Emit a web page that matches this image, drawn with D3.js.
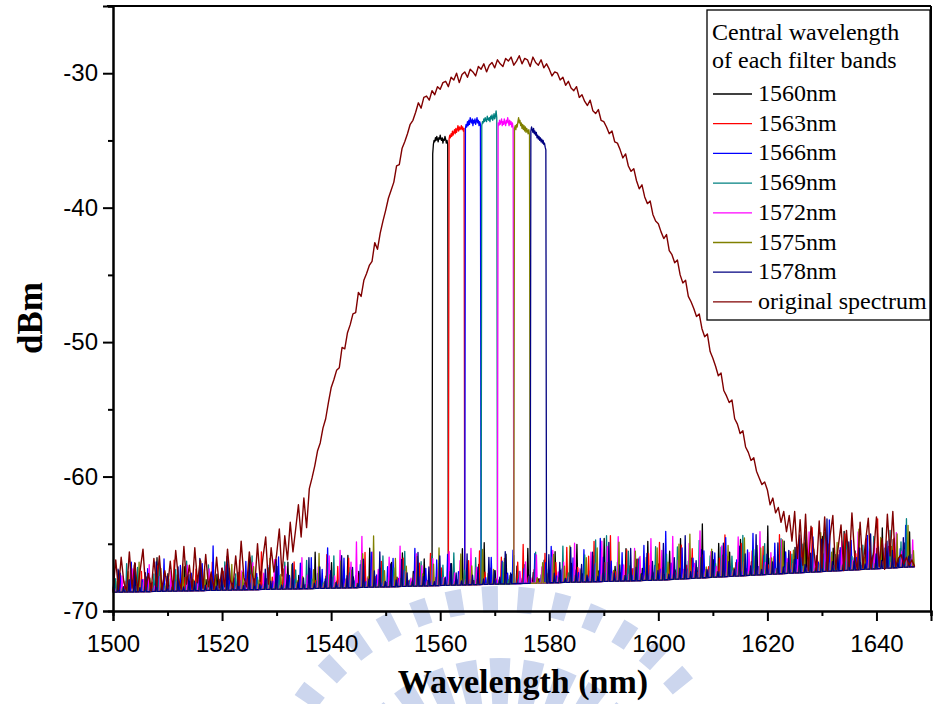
<!doctype html>
<html>
<head>
    <meta charset="utf-8">
    <script src="https://d3js.org/d3.v7.min.js"></script>
    <style>
        body { margin: 0; background: #fff; }
        svg { display: block; }
    </style>
</head>
<body>
    <script>
        // original (unfiltered) spectrum, 1500 nm to 1647 nm every 0.5 nm, in dBm
        let origStart = 1500, origStep = 0.5;
        let originalSpectrum = [
            -68.5, -66.2, -68.4, -66.0, -67.9, -68.5, -65.6, -68.3, -66.4, -68.5, -66.9, -65.4, -68.4, -67.2, -68.5, -66.1, -68.2, -65.9, -68.4, -67.0,
            -68.3, -66.3, -68.4, -65.5, -67.6, -68.4, -65.2, -68.0, -66.6, -68.4, -65.3, -67.9, -66.2, -68.3, -65.8, -68.2, -67.1, -68.4, -66.0, -68.3,
            -66.8, -68.2, -65.4, -67.7, -68.3, -65.9, -68.1, -64.8, -67.5, -68.2, -65.6, -67.2, -68.1, -65.0, -67.8, -66.0, -64.5, -68.0, -65.3, -67.1,
            -65.8, -63.9, -67.4, -64.4, -66.2, -63.4, -65.6, -63.9, -62.1, -64.5, -61.6, -63.8, -60.9, -60.1, -59.2, -58.1, -57.5, -56.4, -55.7, -54.5,
            -53.4, -52.8, -52.1, -51.9, -50.4, -50.5, -49.3, -48.7, -47.9, -47.8, -46.3, -46.6, -45.4, -44.9, -44.3, -44.0, -42.6, -43.1, -41.9, -41.0,
            -40.2, -39.3, -38.7, -38.1, -36.9, -36.8, -35.6, -35.1, -34.5, -33.8, -33.5, -32.9, -32.2, -32.6, -31.8, -31.7, -32.0, -31.3, -31.6, -31.0,
            -31.2, -30.7, -30.6, -31.0, -30.3, -30.5, -30.0, -30.7, -30.1, -29.9, -30.3, -29.7, -29.9, -30.2, -29.5, -29.7, -29.3, -29.9, -29.4, -29.2,
            -29.6, -29.0, -29.3, -29.5, -28.9, -29.1, -28.8, -29.4, -29.1, -28.7, -29.3, -28.9, -29.0, -29.5, -28.8, -29.2, -29.4, -29.0, -29.6, -29.3,
            -29.7, -30.2, -29.9, -30.0, -30.5, -30.3, -30.9, -30.6, -31.1, -31.3, -31.0, -31.8, -31.6, -32.1, -32.4, -32.0, -32.8, -33.0, -32.7, -33.5,
            -33.6, -34.0, -34.5, -34.3, -35.1, -35.2, -35.7, -36.3, -36.0, -36.9, -37.3, -37.1, -38.0, -38.6, -38.3, -39.2, -39.7, -39.5, -40.5, -41.0,
            -41.2, -41.8, -42.3, -42.0, -43.2, -43.5, -44.1, -43.9, -45.0, -45.6, -45.4, -46.6, -47.0, -47.5, -48.1, -47.9, -49.0, -49.6, -49.4, -50.7,
            -51.2, -51.8, -52.5, -52.3, -53.6, -54.0, -54.5, -54.3, -55.7, -56.1, -56.8, -56.6, -57.8, -58.2, -58.8, -58.6, -59.6, -60.1, -60.6, -60.4,
            -61.0, -62.1, -61.6, -62.7, -62.3, -63.4, -62.6, -64.1, -62.9, -64.8, -62.6, -66.1, -63.2, -66.6, -62.8, -67.0, -63.7, -65.5, -67.0, -63.3,
            -66.8, -63.0, -67.0, -64.4, -62.9, -66.9, -65.2, -63.6, -67.0, -64.0, -66.7, -62.7, -65.9, -66.9, -63.4, -66.8, -64.8, -63.1, -66.8, -65.6,
            -63.0, -66.7, -64.6, -66.9, -62.8, -65.9, -62.6, -66.7, -66.1, -65.8, -66.5, -66.0, -66.6, -66.2, -66.7
        ];

        // noise floor of the OSA (dBm) at a few wavelengths
        let floorWl = [1500, 1540, 1600, 1647];
        let floorDb = [-68.6, -68.3, -67.7, -66.7];

        // filter bands
        let filterCenters = [1560, 1563, 1566, 1569, 1572, 1575, 1578];
        let filterLabels = ["1560nm", "1563nm", "1566nm", "1569nm", "1572nm", "1575nm", "1578nm"];
        let filterColors = ["#000000", "#ff0000", "#0000ff", "#008080", "#ff00ff", "#808000", "#000080"];

        // pass band tops in dBm, every 0.125 nm from center-1.375 to center+1.375
        let pass1560 = [-36.0,-35.3,-35.0,-35.1,-34.8,-35.0,-34.7,-34.9,-35.1,-34.8,-34.9,-34.6,-34.9,-35.0,-34.8,-35.2,-34.9,-35.0,-34.7,-34.9,-35.2,-35.0,-35.3];
        let pass1563 = [-34.9,-34.6,-34.8,-34.5,-34.7,-34.3,-34.6,-34.4,-34.2,-34.5,-34.1,-34.4,-34.2,-33.9,-34.3,-34.0,-34.2,-34.1,-33.9,-34.2,-34.0,-34.3,-34.1];
        let pass1566 = [-34.1,-33.8,-34.0,-33.6,-33.9,-33.5,-33.8,-33.3,-33.6,-33.7,-33.4,-33.9,-33.5,-33.7,-33.4,-33.8,-33.6,-33.3,-33.7,-33.5,-33.9,-33.6,-33.8];
        let pass1569 = [-33.9,-33.6,-33.7,-33.4,-33.6,-33.3,-33.5,-33.6,-33.2,-33.4,-33.5,-33.3,-33.6,-33.2,-33.4,-33.1,-33.5,-33.3,-33.0,-33.4,-33.2,-32.8,-33.3];
        let pass1572 = [-33.7,-33.9,-33.5,-33.8,-33.6,-33.4,-33.9,-33.6,-33.8,-33.4,-33.7,-33.9,-33.5,-33.7,-33.3,-33.6,-33.9,-33.5,-33.8,-33.6,-34.0,-33.7,-34.1];
        let pass1575 = [-34.1,-33.9,-34.2,-33.8,-34.0,-33.6,-33.3,-33.7,-33.5,-33.9,-33.7,-34.1,-33.8,-34.2,-33.9,-34.3,-34.0,-34.4,-34.1,-34.3,-34.5,-34.2,-34.6];
        let pass1578 = [-34.3,-34.0,-34.2,-34.4,-34.1,-34.5,-34.3,-34.6,-34.4,-34.8,-34.6,-34.9,-34.7,-35.0,-34.8,-35.1,-34.9,-35.2,-35.0,-35.3,-35.2,-35.5,-35.7];

        // noise spikes: height above the floor (dB), one per nm from 1500 to 1647
        let noise1560 = [
            0.4,1.6,0.2,0.9,2.1,0.3,1.1,0.6,2.5,0.2, 1.3,0.5,0.3,1.8,0.7,0.2,2.2,0.8,0.4,1.2,
            0.6,1.9,0.3,1.0,0.5,2.4,0.2,1.3,0.8,0.4, 1.7,0.3,2.0,0.6,1.0,0.2,1.5,2.7,0.4,0.9,
            1.9,0.5,0.3,2.4,0.8,1.2,0.2,2.9,0.6,1.4, 0.3,1.8,0.7,2.5,0.4,1.1,0.3,2.0,0.6,0.0,
            0.0,0.0,1.6,0.4,2.7,0.9,0.3,1.5,3.1,0.5, 1.0,0.2,2.2,0.7,1.3,0.4,2.6,0.8,0.3,1.7,
            0.5,2.3,0.9,0.3,1.4,2.8,0.6,0.2,1.9,0.8, 3.2,0.4,1.1,0.6,2.4,0.3,1.6,0.9,2.9,0.5,
            1.2,0.4,2.1,0.7,3.0,0.3,1.5,0.8,4.0,0.5, 1.3,2.5,0.4,1.8,0.6,2.7,0.3,1.0,2.2,0.7,
            3.6,0.5,1.4,2.4,0.3,1.9,0.8,3.1,0.4,1.2, 2.6,0.6,1.7,0.3,2.9,0.9,1.4,0.5,2.2,0.8,
            1.5,3.0,0.4,2.1,0.7,1.8,2.6,0.5];
        let noise1563 = [
            1.1,0.3,0.8,2.0,0.4,1.5,0.2,0.7,1.9,0.5, 0.3,2.3,0.6,1.0,0.2,1.6,0.9,0.4,2.1,0.3,
            1.4,0.7,0.2,2.2,0.5,1.1,0.3,2.8,0.6,0.9, 0.4,1.5,0.2,2.0,0.8,0.3,1.3,0.6,0.2,2.5,
            0.7,1.6,0.4,2.2,0.3,1.0,2.6,0.5,0.8,1.9, 0.3,1.2,0.6,2.1,0.4,0.9,1.7,0.3,2.4,0.6,
            1.3,0.0,0.0,0.0,0.5,1.8,0.3,2.5,0.9,1.2, 0.4,2.0,0.7,0.3,1.6,2.9,0.5,1.0,0.3,2.2,
            0.8,1.5,0.4,2.6,0.6,1.1,0.3,1.9,3.0,0.5, 1.4,3.4,0.7,0.3,2.3,0.9,1.6,0.4,2.0,0.6,
            2.8,0.3,1.2,0.5,2.5,1.0,2.2,0.4,1.7,0.8, 0.3,1.4,3.1,0.6,1.0,2.4,0.5,1.8,0.3,2.1,
            0.7,1.3,2.9,0.4,1.6,0.6,2.5,0.3,3.3,0.8, 1.1,2.0,0.4,1.5,2.7,0.6,1.2,0.3,2.3,0.9,
            3.7,0.5,1.6,2.2,0.4,1.3,0.6,1.9];
        let noise1566 = [
            0.6,1.4,0.3,2.2,0.5,0.9,1.7,0.2,1.1,2.4, 0.4,0.8,1.9,0.3,1.3,0.6,2.0,0.2,3.3,0.7,
            0.4,1.6,0.9,0.3,2.1,0.5,1.2,0.3,1.8,0.6, 2.4,0.4,1.0,0.7,1.9,0.3,2.3,0.5,1.4,3.0,
            0.8,0.3,2.2,1.1,0.5,1.7,0.4,2.6,0.9,0.3, 1.5,2.1,0.6,1.2,0.4,2.8,0.7,1.3,0.3,1.9,
            0.6,2.3,0.4,1.0,0.0,0.0,0.0,1.4,0.5,2.0, 0.3,1.7,0.8,2.5,0.4,1.1,0.6,2.2,0.3,1.5,
            2.7,0.5,1.0,0.3,1.8,0.7,2.4,0.4,1.3,3.2, 0.6,1.5,0.3,2.1,0.9,0.4,1.6,2.6,0.5,1.1,
            0.8,3.6,1.2,0.4,2.3,0.7,1.5,0.3,2.0,0.6, 1.8,0.4,2.9,0.7,1.2,0.3,1.9,3.1,0.6,1.4,
            0.4,2.3,0.8,1.6,0.3,2.0,1.1,0.5,2.6,0.7, 1.3,3.8,0.4,1.7,0.6,2.2,0.9,0.3,2.5,1.0,
            1.6,0.4,2.1,0.7,1.4,3.1,0.6,1.8];
        let noise1569 = [
            1.0,0.3,2.1,0.5,1.8,0.7,0.3,1.3,2.0,0.4, 0.9,1.6,0.3,2.2,0.6,1.1,0.2,1.9,0.5,0.8,
            2.1,0.4,1.2,0.7,0.3,2.5,0.9,0.4,1.6,0.3, 1.0,2.0,0.5,1.4,0.3,2.1,0.7,1.1,0.4,1.8,
            2.4,0.6,0.3,1.5,0.9,2.0,0.4,1.2,0.3,2.3, 0.7,1.4,0.4,2.6,0.5,1.0,1.8,0.3,2.2,0.6,
            1.5,0.3,2.4,0.8,1.1,0.4,2.0,0.0,0.0,0.0, 0.5,1.6,0.3,2.1,0.9,1.4,0.4,2.3,0.6,1.0,
            1.9,0.4,2.7,0.7,1.2,0.3,2.0,0.8,3.1,0.5, 3.4,0.6,1.4,0.4,2.2,0.9,1.7,0.3,1.1,2.5,
            0.5,1.9,0.7,2.4,0.3,1.3,0.8,2.8,0.4,1.6, 1.0,2.2,0.4,1.5,0.7,3.0,0.3,1.9,0.6,2.3,
            1.2,0.4,2.6,0.8,1.4,0.3,2.1,0.7,1.7,0.5, 2.9,0.6,1.2,0.4,2.3,1.0,0.5,1.8,0.3,2.4,
            0.7,1.5,2.8,0.4,1.9,3.6,0.9,2.4];
        let noise1572 = [
            0.3,1.2,0.6,1.7,0.2,0.9,2.0,0.4,1.1,0.3, 1.5,0.7,0.2,1.9,0.5,1.0,0.3,1.6,0.8,0.4,
            1.8,0.6,0.3,1.4,0.9,2.0,0.4,1.2,0.5,2.2, 0.3,1.7,0.8,0.4,2.3,1.0,0.5,1.6,0.3,2.4,
            0.9,2.8,0.6,1.9,3.4,3.8,0.7,2.6,1.3,0.4, 2.2,0.8,3.0,1.1,0.6,2.4,1.5,0.4,2.0,1.2,
            0.6,2.5,0.9,1.8,0.4,2.7,1.3,0.0,0.0,0.0, 0.0,0.0,0.5,2.3,0.9,1.6,0.4,2.1,1.2,0.6,
            2.4,0.8,1.5,0.4,2.9,1.0,0.6,2.2,1.4,3.0, 2.6,0.7,3.3,1.2,0.5,2.4,1.8,0.6,3.1,1.0,
            2.2,0.5,3.2,1.4,0.7,2.6,1.1,3.5,0.6,1.9, 0.8,2.3,1.5,0.4,2.9,1.0,1.7,0.5,3.2,0.9,
            1.6,0.4,2.5,1.1,0.7,2.1,0.5,3.0,1.3,0.6, 2.4,1.0,0.4,2.2,1.5,0.7,2.8,0.5,1.3,2.0,
            0.6,1.8,0.4,2.6,1.2,0.7,2.0,1.4];
        let noise1575 = [
            0.8,0.3,1.5,0.5,2.2,0.4,1.0,0.2,1.7,0.6, 0.3,1.2,2.0,0.4,0.8,0.3,1.6,0.5,1.1,0.3,
            0.6,1.9,0.4,1.3,0.2,1.7,0.7,0.4,2.3,0.5, 1.1,0.3,1.8,0.6,0.9,0.3,1.4,2.6,0.5,1.0,
            0.4,2.0,0.7,1.3,0.3,2.5,0.8,3.8,0.5,1.2, 0.4,2.1,0.6,1.5,0.3,2.2,0.9,0.4,1.6,2.8,
            0.5,1.0,0.3,2.3,0.7,1.4,0.4,2.6,0.8,1.1, 0.3,1.9,0.6,2.4,0.0,0.0,0.0,0.4,1.5,0.7,
            2.1,0.4,1.2,2.7,0.5,0.9,1.8,0.3,2.5,0.6, 1.4,0.8,2.9,0.4,1.1,2.2,0.5,1.7,0.3,2.4,
            0.9,1.3,0.4,2.6,0.7,3.3,0.5,1.5,0.8,2.1, 0.4,1.6,2.3,0.6,1.0,2.8,0.3,1.4,2.0,0.7,
            1.2,0.4,2.5,0.8,1.7,0.5,2.2,1.1,0.3,2.9, 0.7,1.4,2.1,0.4,1.8,0.6,3.0,0.9,1.5,0.4,
            2.3,0.7,1.6,2.5,0.5,3.1,1.2,2.8];
        let noise1578 = [
            1.7,0.4,0.9,2.0,0.3,1.4,0.6,2.2,0.4,1.1, 0.5,1.8,0.3,1.2,0.7,2.4,0.4,1.0,0.3,1.6,
            2.5,0.5,1.3,0.3,2.0,0.8,0.4,1.5,0.6,2.2, 0.3,1.1,1.9,0.5,0.8,2.3,0.4,1.6,0.7,1.3,
            0.4,2.4,0.9,1.5,0.3,2.1,0.6,1.2,2.6,0.4, 1.7,0.5,2.0,1.0,0.4,2.5,0.7,1.4,0.3,2.2,
            0.6,1.6,0.9,0.3,2.3,0.7,1.3,0.4,2.0,1.0, 0.5,2.4,0.8,0.0,0.0,0.0,0.0,1.1,0.4,2.1,
            0.7,1.5,0.3,2.6,0.9,1.3,0.5,2.2,0.4,1.8, 2.9,0.6,1.2,0.4,2.4,1.0,0.5,2.0,1.4,0.7,
            2.7,0.4,1.6,0.8,3.2,0.5,1.3,2.1,0.6,1.9, 0.4,2.5,1.1,0.5,2.2,1.6,0.7,3.0,0.4,1.5,
            0.9,2.3,0.5,1.7,1.0,2.8,0.6,1.4,0.3,2.4, 3.9,0.7,1.2,0.5,2.1,0.9,1.6,0.4,2.6,1.1,
            0.6,2.0,1.3,0.4,2.2,0.8,1.5,0.6];

        let passBands = [pass1560, pass1563, pass1566, pass1569, pass1572, pass1575, pass1578];
        let noiseSpikes = [noise1560, noise1563, noise1566, noise1569, noise1572, noise1575, noise1578];

        let xTicks = [1500, 1520, 1540, 1560, 1580, 1600, 1620, 1640];
        let yTicks = [-70, -60, -50, -40, -30];

        let width = 933, height = 704;
        let mLeft = 113, mRight = 931, mTop = 6, mBottom = 611;

        let x = d3.scaleLinear().domain([1500, 1650]).range([mLeft, mRight]);
        let y = d3.scaleLinear().domain([-70, -25]).range([mBottom, mTop]);
        let floor = d3.scaleLinear().domain(floorWl).range(floorDb);

        let svg = d3.select("body").append("svg")
                    .attr("width", width).attr("height", height);

        // faint university watermark at the bottom
        let wm = svg.append("g").attr("transform", "translate(500,834)").attr("fill", "#ccd6ee");
        let rad = Math.PI / 180;
        d3.range(-54, 55, 8.6).forEach(function(a) {
            wm.append("path").attr("d", d3.arc()({innerRadius: 222, outerRadius: 248,
                startAngle: (a - 1.9) * rad, endAngle: (a + 1.9) * rad}));
        });
        d3.range(-56, 57, 11.2).forEach(function(a) {
            wm.append("path").attr("d", d3.arc()({innerRadius: 130, outerRadius: 176,
                startAngle: (a - 3.4) * rad, endAngle: (a + 3.4) * rad}));
        });

        let line = d3.line().x(function(d){return x(d[0]);}).y(function(d){return y(d[1]);});

        let plot = svg.append("g");

        // filtered bands: floor with noise spikes plus the flat top pass band
        filterCenters.forEach(function(c, k) {
            let pts = [[1500, floor(1500)], [1647, floor(1647)]];
            noiseSpikes[k].forEach(function(h, i) {
                let w = 1500 + i + k / 7 + 0.07;
                if (h <= 0 || w > 1646.8 || Math.abs(w - c) < 1.7) return;
                pts.push([w - 0.15, floor(w - 0.15)], [w, floor(w) + h], [w + 0.15, floor(w + 0.15)]);
            });
            pts.push([c - 1.5, floor(c - 1.5)]);
            passBands[k].forEach(function(v, j) { pts.push([c - 1.375 + 0.125 * j, v]); });
            pts.push([c + 1.5, floor(c + 1.5)]);
            pts.sort(function(a, b){return a[0] - b[0];});
            plot.append("path").attr("d", line(pts))
                .attr("fill", "none").attr("stroke", filterColors[k])
                .attr("stroke-width", 1.3).attr("stroke-linejoin", "round");
        });

        let orig = originalSpectrum.map(function(v, i){return [origStart + i * origStep, v];});
        plot.append("path").attr("d", line(orig))
            .attr("fill", "none").attr("stroke", "#800000")
            .attr("stroke-width", 1.4).attr("stroke-linejoin", "round");

        // frame
        svg.append("line").attr("x1", mLeft - 6).attr("x2", mRight).attr("y1", mTop).attr("y2", mTop)
            .attr("stroke", "#000").attr("stroke-width", 2);
        svg.append("line").attr("x1", mRight).attr("x2", mRight).attr("y1", mTop).attr("y2", mBottom)
            .attr("stroke", "#000").attr("stroke-width", 2);

        // axes
        let tickFont = "'Liberation Sans', Arial, sans-serif";
        let plain = function(d){return String(d);};
        let xMinor = svg.append("g").attr("transform", "translate(0," + mBottom + ")")
            .call(d3.axisBottom(x).tickValues(d3.range(1510, 1651, 20)).tickSize(5).tickFormat(""));
        let xAxis = svg.append("g").attr("transform", "translate(0," + mBottom + ")")
            .call(d3.axisBottom(x).tickValues(xTicks).tickSize(10).tickPadding(14).tickFormat(plain));
        let yMinor = svg.append("g").attr("transform", "translate(" + mLeft + ",0)")
            .call(d3.axisLeft(y).tickValues(d3.range(-65, -24, 10)).tickSize(5).tickFormat(""));
        let yAxis = svg.append("g").attr("transform", "translate(" + mLeft + ",0)")
            .call(d3.axisLeft(y).tickValues(yTicks).tickSize(10).tickPadding(5).tickFormat(plain));

        [xMinor, xAxis, yMinor, yAxis].forEach(function(g) {
            g.select(".domain").attr("stroke", "#000").attr("stroke-width", 2);
            g.selectAll(".tick line").attr("stroke", "#000").attr("stroke-width", 2);
            g.selectAll("text").attr("font-family", tickFont).attr("font-size", 24).attr("fill", "#000");
        });

        let serif = "'Liberation Serif', 'Times New Roman', serif";
        svg.append("text").attr("x", (mLeft + mRight) / 2 + 1).attr("y", 693)
            .attr("text-anchor", "middle").attr("font-family", serif)
            .attr("font-weight", "bold").attr("font-size", 34).text("Wavelength (nm)");
        svg.append("text").attr("transform", "translate(42,318) rotate(-90)")
            .attr("text-anchor", "middle").attr("font-family", serif)
            .attr("font-weight", "bold").attr("font-size", 35).text("dBm");

        // legend
        let lg = svg.append("g");
        lg.append("rect").attr("x", 707).attr("y", 10).attr("width", 223).attr("height", 310)
            .attr("fill", "#fff").attr("stroke", "#000").attr("stroke-width", 1.3);
        lg.append("text").attr("x", 712).attr("y", 40).attr("font-family", serif)
            .attr("font-size", 24).text("Central wavelength");
        lg.append("text").attr("x", 712).attr("y", 68).attr("font-family", serif)
            .attr("font-size", 24).text("of each filter bands");
        let legendNames = filterLabels.concat(["original spectrum"]);
        let legendColors = filterColors.concat(["#800000"]);
        legendNames.forEach(function(name, i) {
            let ly = 94 + i * 29.7;
            lg.append("line").attr("x1", 713).attr("x2", 752).attr("y1", ly).attr("y2", ly)
                .attr("stroke", legendColors[i]).attr("stroke-width", 1.3);
            lg.append("text").attr("x", 758).attr("y", ly + 7).attr("font-family", serif)
                .attr("font-size", 24).text(name);
        });
    </script>
</body>
</html>
